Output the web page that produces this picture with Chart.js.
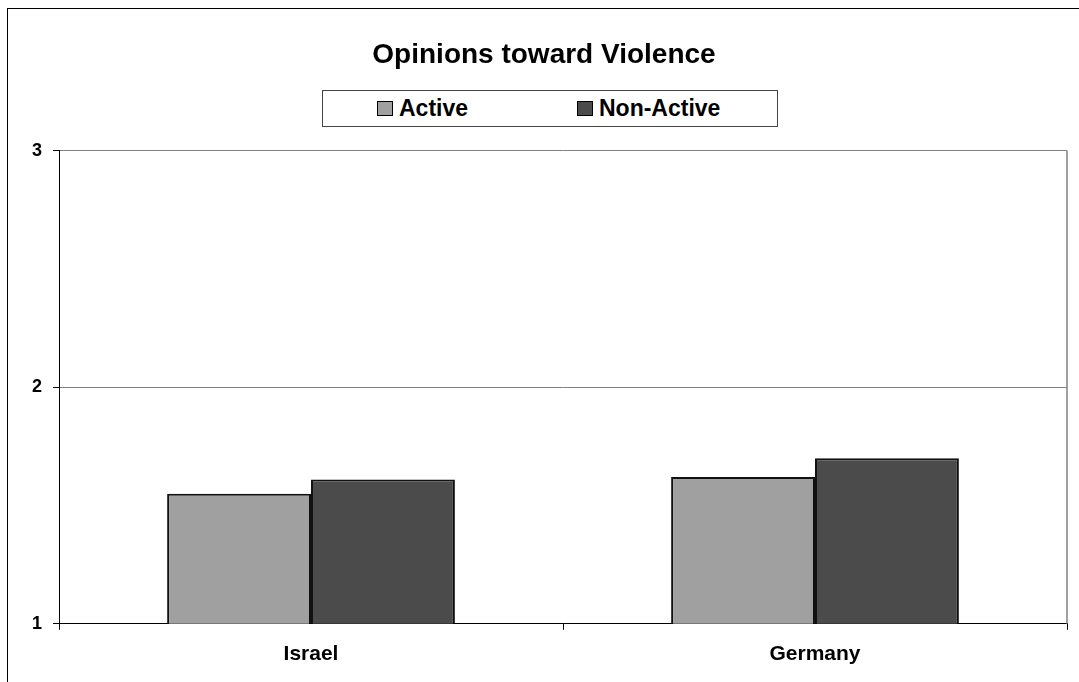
<!DOCTYPE html>
<html>
<head>
<meta charset="utf-8">
<script src="https://cdn.jsdelivr.net/npm/chart.js@4"></script>
<style>
    html, body { margin: 0; padding: 0; background: #fff; overflow: hidden; }
    #wrap { position: relative; width: 1079px; height: 682px; }
    #frame { position: absolute; left: 7px; top: 8px; width: 1100px; height: 700px; border: 1px solid #000; }
    #chart { position: absolute; left: 0; top: 0; }
    #legend {
        position: absolute; left: 322px; top: 90px; width: 456px; height: 37px;
        border: 1px solid #444; box-sizing: border-box; background: #fff;
        display: flex; align-items: center; padding-left: 54px;
        font: bold 23px "Liberation Sans", Arial, sans-serif; color: #000;
    }
    #legend .item { width: 201px; display: flex; align-items: center; }
    #legend .box { width: 14px; height: 13px; border: 1px solid #000; margin-right: 6px; }
</style>
</head>
<body>
<div id="wrap">
    <div id="frame"></div>
    <canvas id="chart" width="1079" height="682"></canvas>
    <div id="legend"></div>
</div>
<script>

    const categories = ['Israel', 'Germany'];
    const active = [1.55, 1.62];
    const nonActive = [1.61, 1.70];
    const yTicks = [1, 2, 3];

    // gray right edge of the plot area
    const plotFrame = {
        id: 'plotFrame',
        beforeDatasetsDraw(chart) {
            let a = chart.chartArea;
            let ctx = chart.ctx;
            ctx.save();
            ctx.strokeStyle = '#808080';
            ctx.lineWidth = 1.5;
            ctx.beginPath();
            ctx.moveTo(a.right, a.top);
            ctx.lineTo(a.right, a.bottom);
            ctx.stroke();
            ctx.restore();
        }
    };

    const font = { family: '"Liberation Sans", Arial, sans-serif', weight: 'bold' };

    const data = {
        labels: categories,
        datasets: [{
            label: 'Active',
            data: active,
            backgroundColor: '#a0a0a0',
            borderColor: '#111111',
            borderWidth: 2,
            borderSkipped: false
        }, {
            label: 'Non-Active',
            data: nonActive,
            backgroundColor: '#4b4b4b',
            borderColor: '#111111',
            borderWidth: 2,
            borderSkipped: false
        }]
    };

    const config = {
        type: 'bar',
        data: data,
        plugins: [plotFrame],
        options: {
            responsive: false,
            animation: false,
            categoryPercentage: 0.571,
            barPercentage: 1.0,
            layout: { padding: { left: 21, right: 12, bottom: 3 } },
            plugins: {
                legend: { display: false },
                tooltip: { enabled: false },
                title: {
                    display: true,
                    text: 'Opinions toward Violence',
                    color: '#000',
                    font: { ...font, size: 28 },
                    padding: { top: 38, bottom: 79 }
                }
            },
            scales: {
                x: {
                    grid: { offset: true, drawOnChartArea: false, tickLength: 6, tickColor: '#000' },
                    border: { color: '#000', width: 1 },
                    ticks: { color: '#000', font: { ...font, size: 21 }, padding: 12 }
                },
                y: {
                    min: yTicks[0],
                    max: yTicks[yTicks.length - 1],
                    afterBuildTicks(scale) {
                        scale.ticks = yTicks.map(v => ({ value: v }));
                    },
                    grid: {
                        color: (c) => c.tick && c.tick.value === yTicks[0] ? '#000' : '#808080',
                        tickLength: 6,
                        tickColor: '#000'
                    },
                    border: { color: '#000', width: 1 },
                    ticks: { color: '#000', font: { ...font, size: 18 }, padding: 11 }
                }
            }
        }
    };

    let chart = new Chart(document.getElementById('chart').getContext('2d'), config);

    // legend in a box, built from the datasets
    let legend = document.getElementById('legend');
    chart.data.datasets.forEach(ds => {
        let item = document.createElement('div');
        item.className = 'item';
        let box = document.createElement('span');
        box.className = 'box';
        box.style.background = ds.backgroundColor;
        let txt = document.createElement('span');
        txt.textContent = ds.label;
        item.appendChild(box);
        item.appendChild(txt);
        legend.appendChild(item);
    });

</script>
</body>
</html>
